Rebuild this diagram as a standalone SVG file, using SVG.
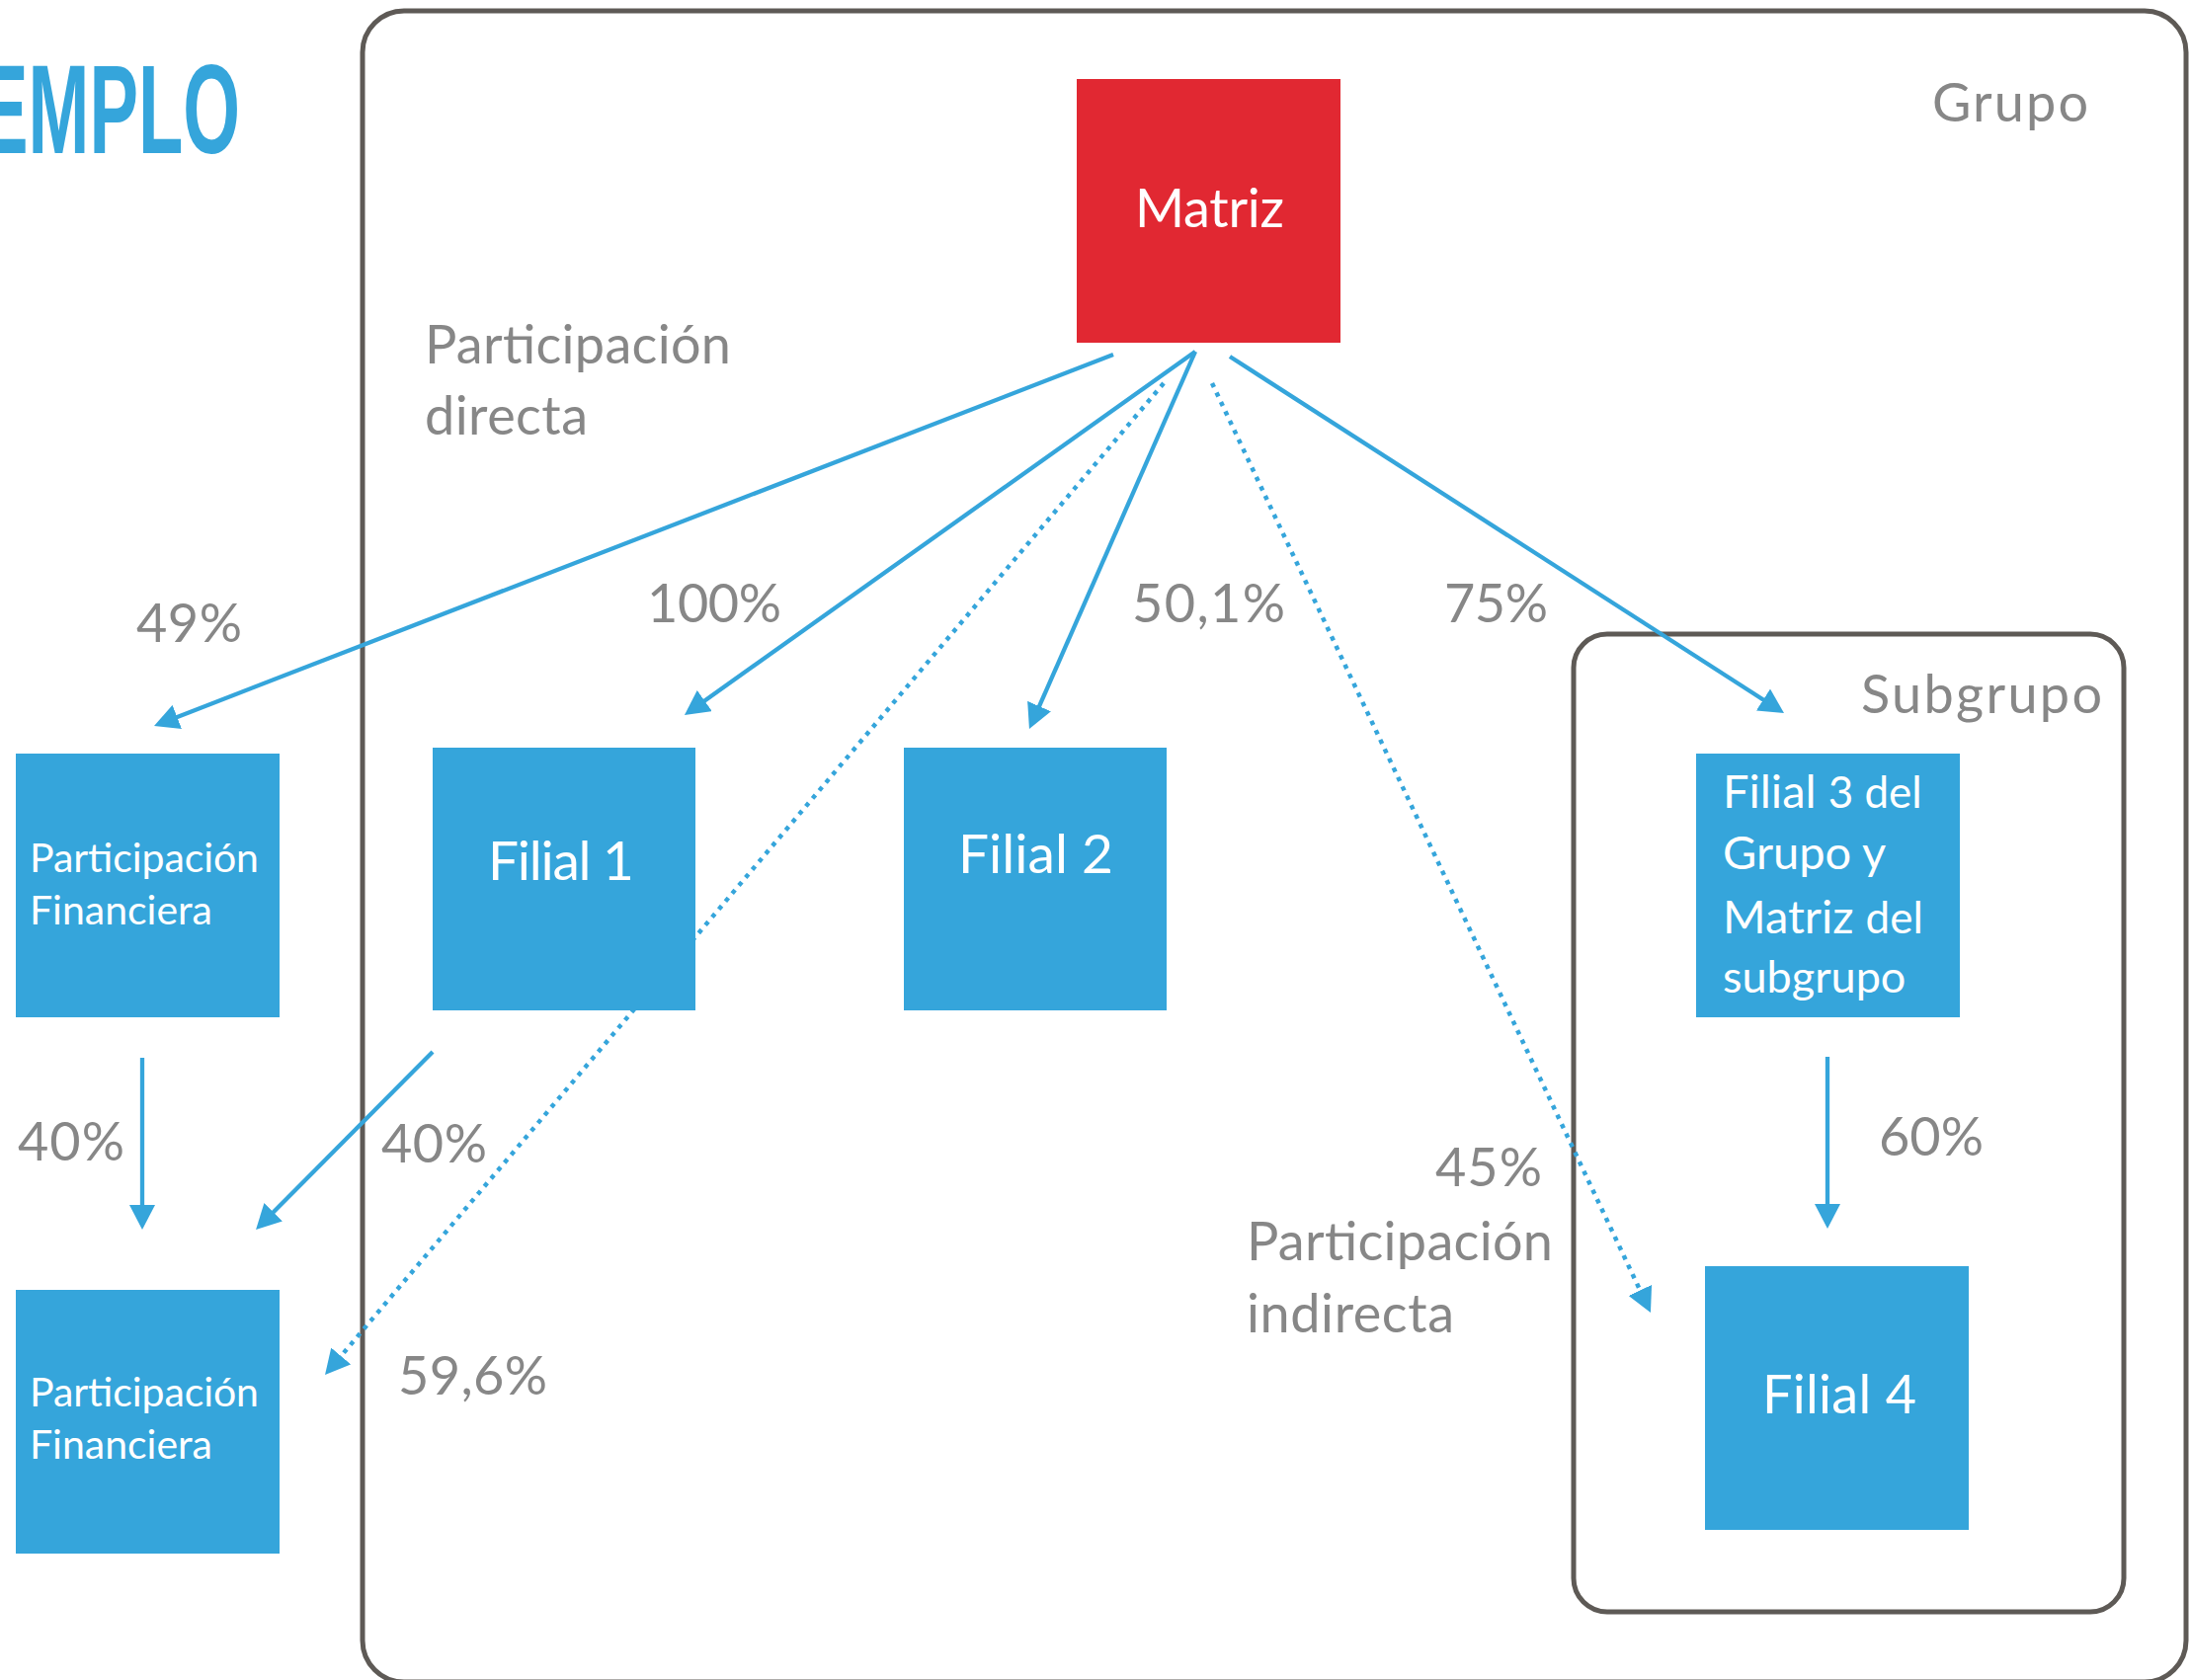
<svg xmlns="http://www.w3.org/2000/svg" width="2218" height="1701" viewBox="0 0 2218 1701">
<style>
.frame{fill:none;stroke:#5e5a56;stroke-width:5}
.box{fill:#35a5db}
.red{fill:#e12832}
.lbl{font-family:Lato,"Noto Sans",sans-serif;font-size:54px;fill:#878787}
.wt{font-family:Lato,"Noto Sans",sans-serif;fill:#ffffff}
.solid{fill:none;stroke:#35a5db;stroke-width:4.3;marker-end:url(#ah)}
.dot{fill:none;stroke:#35a5db;stroke-width:4.5;stroke-dasharray:4.5 6;marker-end:url(#ah)}
</style>
<defs>
<marker id="ah" viewBox="0 0 25 26" refX="15" refY="13" markerWidth="25" markerHeight="26" markerUnits="userSpaceOnUse" orient="auto">
<path d="M0,0 L25,13 L0,26 z" fill="#35a5db"/>
</marker>
</defs>
<rect width="2218" height="1701" fill="#ffffff"/>
<g id="title">
<text transform="translate(243,155) scale(0.58,1)" text-anchor="end" font-family="'Liberation Sans',Arial,sans-serif" font-weight="bold" font-size="128" fill="#35a5db">EMPLO</text>
</g>
<g id="grupo">
<rect class="frame" x="367" y="11" width="1846" height="1692" rx="42" ry="42"/>
<text class="lbl" x="1956" y="123" textLength="158">Grupo</text>
</g>
<g id="subgrupo">
<rect class="frame" x="1593" y="642" width="557" height="990" rx="34" ry="34"/>
<text class="lbl" x="1884" y="722" textLength="244">Subgrupo</text>
</g>
<g id="connectors">
<line class="solid" x1="1127" y1="359" x2="165.3" y2="731.4"/>
<line class="solid" x1="1210" y1="356" x2="701.1" y2="718.2"/>
<line class="solid" x1="1210" y1="356" x2="1046" y2="728.8"/>
<line class="solid" x1="1245" y1="361" x2="1797.6" y2="716.6"/>
<line class="dot" x1="1178" y1="388" x2="335.5" y2="1384.4"/>
<line class="dot" x1="1227" y1="388" x2="1666.7" y2="1320"/>
<line class="solid" x1="144" y1="1071" x2="144" y2="1235"/>
<line class="solid" x1="438" y1="1065" x2="266.1" y2="1237.9"/>
<line class="solid" x1="1850" y1="1070" x2="1850" y2="1234"/>
</g>
<g id="matriz">
<rect class="red" x="1090" y="80" width="267" height="267"/>
<text class="wt" x="1149" y="230" font-size="54" textLength="151">Matriz</text>
</g>
<g id="pf1">
<rect class="box" x="16" y="763" width="267" height="267"/>
<text class="wt" font-size="41"><tspan x="30" y="883" textLength="232">Participación</tspan><tspan x="30" y="936" textLength="185">Financiera</tspan></text>
</g>
<g id="filial1">
<rect class="box" x="438" y="757" width="266" height="266"/>
<text class="wt" x="494" y="891" font-size="55" textLength="148">Filial 1</text>
</g>
<g id="filial2">
<rect class="box" x="915" y="757" width="266" height="266"/>
<text class="wt" x="970" y="884" font-size="55" textLength="157">Filial 2</text>
</g>
<g id="filial3">
<rect class="box" x="1717" y="763" width="267" height="267"/>
<text class="wt" font-size="47"><tspan x="1744" y="818">Filial <tspan font-size="44">3 del</tspan></tspan><tspan x="1744" y="880">Grupo y</tspan><tspan x="1744" y="945">Matriz <tspan font-size="44">del</tspan></tspan><tspan x="1744" y="1005" font-size="45">subgrupo</tspan></text>
</g>
<g id="pf2">
<rect class="box" x="16" y="1306" width="267" height="267"/>
<text class="wt" font-size="41"><tspan x="30" y="1424" textLength="232">Participación</tspan><tspan x="30" y="1477" textLength="185">Financiera</tspan></text>
</g>
<g id="filial4">
<rect class="box" x="1726" y="1282" width="267" height="267"/>
<text class="wt" x="1784" y="1431" font-size="54" textLength="156">Filial 4</text>
</g>
<g id="labels">
<text class="lbl"><tspan x="430" y="368" textLength="310">Participación</tspan><tspan x="430" y="440" textLength="165">directa</tspan></text>
<text class="lbl" x="138" y="650" textLength="107">49%</text>
<text class="lbl" x="655" y="630" textLength="136">100%</text>
<text class="lbl" x="1146" y="630" textLength="155">50,1%</text>
<text class="lbl" x="1462" y="630" textLength="105">75%</text>
<text class="lbl" x="18" y="1175" textLength="108">40%</text>
<text class="lbl" x="386" y="1177" textLength="107">40%</text>
<text class="lbl" x="403" y="1412" textLength="151">59,6%</text>
<text class="lbl" x="1902" y="1170" textLength="106">60%</text>
<text class="lbl" x="1453" y="1201" textLength="108">45%</text>
<text class="lbl"><tspan x="1262" y="1276" textLength="310">Participación</tspan><tspan x="1262" y="1349" textLength="210">indirecta</tspan></text>
</g>
</svg>
